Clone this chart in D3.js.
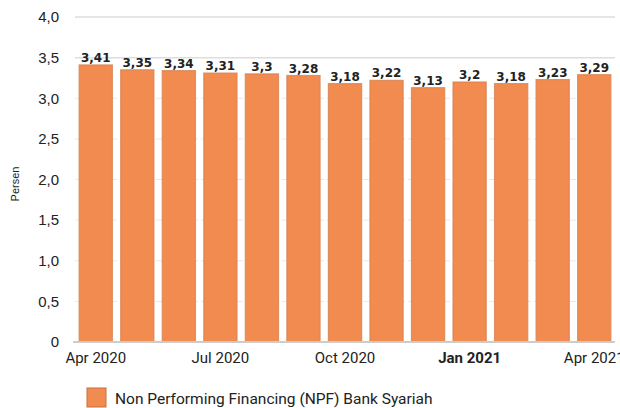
<!DOCTYPE html>
<html>
<head>
<meta charset="utf-8">
<script src="https://cdn.jsdelivr.net/npm/d3@7"></script>
<style>
  body { margin: 0; background: #fff; }
  svg { display: block; }
</style>
</head>
<body>
<div id="chart"></div>
<script>
// data
var months = ["Apr 2020","May 2020","Jun 2020","Jul 2020","Aug 2020","Sep 2020","Oct 2020","Nov 2020","Dec 2020","Jan 2021","Feb 2021","Mar 2021","Apr 2021"];
var npf = [3.41, 3.35, 3.34, 3.31, 3.3, 3.28, 3.18, 3.22, 3.13, 3.2, 3.18, 3.23, 3.29];
var yTicks = [0, 0.5, 1, 1.5, 2, 2.5, 3, 3.5, 4];
var xTickLabels = ["Apr 2020","Jul 2020","Oct 2020","Jan 2021","Apr 2021"];
var seriesName = "Non Performing Financing (NPF) Bank Syariah";

var width = 620, height = 408;
var margin = {top: 17, right: 5, bottom: 66, left: 75};

var svg = d3.select("#chart")
	.append("svg")
	.attr("width", width)
	.attr("height", height);

var x = d3.scaleBand()
	.domain(months)
	.range([margin.left, width - margin.right])
	.paddingInner(0.2)
	.paddingOuter(0.1);

var y = d3.scaleLinear()
	.domain([0, 4])
	.range([height - margin.bottom, margin.top]);

var fmt = function(v) { return v === 0 ? "0" : d3.format(".1f")(v).replace(".", ","); };

// grid
svg.append("g")
	.selectAll("line")
	.data(yTicks.filter(function(d) { return d > 0; }))
	.join("line")
	.attr("x1", margin.left)
	.attr("x2", width - margin.right)
	.attr("y1", function(d) { return y(d); })
	.attr("y2", function(d) { return y(d); })
	.attr("stroke", function(d) { return d >= 3.5 ? "#dddddd" : "#e8e8e8"; })
	.attr("stroke-width", function(d) { return d >= 3.5 ? 1.5 : 1; })
	.attr("stroke-dasharray", function(d) { return d >= 3.5 ? null : "6,3"; });

// y axis labels
var yAxis = svg.append("g")
	.attr("transform", "translate(" + (margin.left - 16) + ",0)")
	.call(d3.axisLeft(y).tickValues(yTicks).tickFormat(fmt).tickSize(0));
yAxis.select(".domain").remove();
yAxis.selectAll("text")
	.attr("x", 0)
	.style("font-family", "'Liberation Sans', Arial, sans-serif")
	.style("font-size", "15px")
	.attr("fill", "#222");

svg.append("text")
	.attr("transform", "translate(19,184) rotate(-90)")
	.attr("text-anchor", "middle")
	.style("font-family", "'Liberation Sans', Arial, sans-serif")
	.style("font-size", "11px")
	.attr("fill", "#222")
	.text("Persen");

// bars
svg.append("g")
	.selectAll("rect")
	.data(npf)
	.join("rect")
	.attr("x", function(d, i) { return x(months[i]); })
	.attr("y", function(d) { return y(d); })
	.attr("width", x.bandwidth())
	.attr("height", function(d) { return y(0) - y(d); })
	.attr("fill", "#f28b50")
	.attr("stroke", "#d9824f")
	.attr("stroke-opacity", 0.8)
	.attr("stroke-width", 1.2);

// value labels
svg.append("g")
	.selectAll("text")
	.data(npf)
	.join("text")
	.attr("x", function(d, i) { return x(months[i]) + x.bandwidth() / 2; })
	.attr("y", function(d) { return y(d) - 3; })
	.attr("text-anchor", "middle")
	.style("font-family", "'DejaVu Sans', Verdana, sans-serif")
	.style("font-size", "12px")
	.style("font-weight", "bold")
	.attr("fill", "#222")
	.text(function(d) { return String(d).replace(".", ","); });

// baseline
svg.append("line")
	.attr("x1", margin.left - 2)
	.attr("x2", width - margin.right)
	.attr("y1", y(0))
	.attr("y2", y(0))
	.attr("stroke", "#cccccc")
	.attr("stroke-width", 2);

// x axis labels
var xAxis = svg.append("g")
	.attr("transform", "translate(0," + y(0) + ")")
	.call(d3.axisBottom(x).tickValues(xTickLabels).tickSize(0).tickPadding(10));
xAxis.select(".domain").remove();
xAxis.selectAll("text")
	.style("font-family", "Roboto, sans-serif")
	.style("font-size", "15px")
	.style("font-weight", function(d) { return d === "Jan 2021" ? "bold" : "normal"; })
	.attr("fill", "#222");

// legend
var legend = svg.append("g").attr("transform", "translate(87,388)");
legend.append("rect")
	.attr("width", 19)
	.attr("height", 19)
	.attr("fill", "#f28b50")
	.attr("stroke", "#c9703c")
	.attr("stroke-width", 1);
legend.append("text")
	.attr("x", 28)
	.attr("y", 16)
	.style("font-family", "Roboto, sans-serif")
	.style("font-size", "15.5px")
	.attr("fill", "#222")
	.text(seriesName);
</script>
</body>
</html>
